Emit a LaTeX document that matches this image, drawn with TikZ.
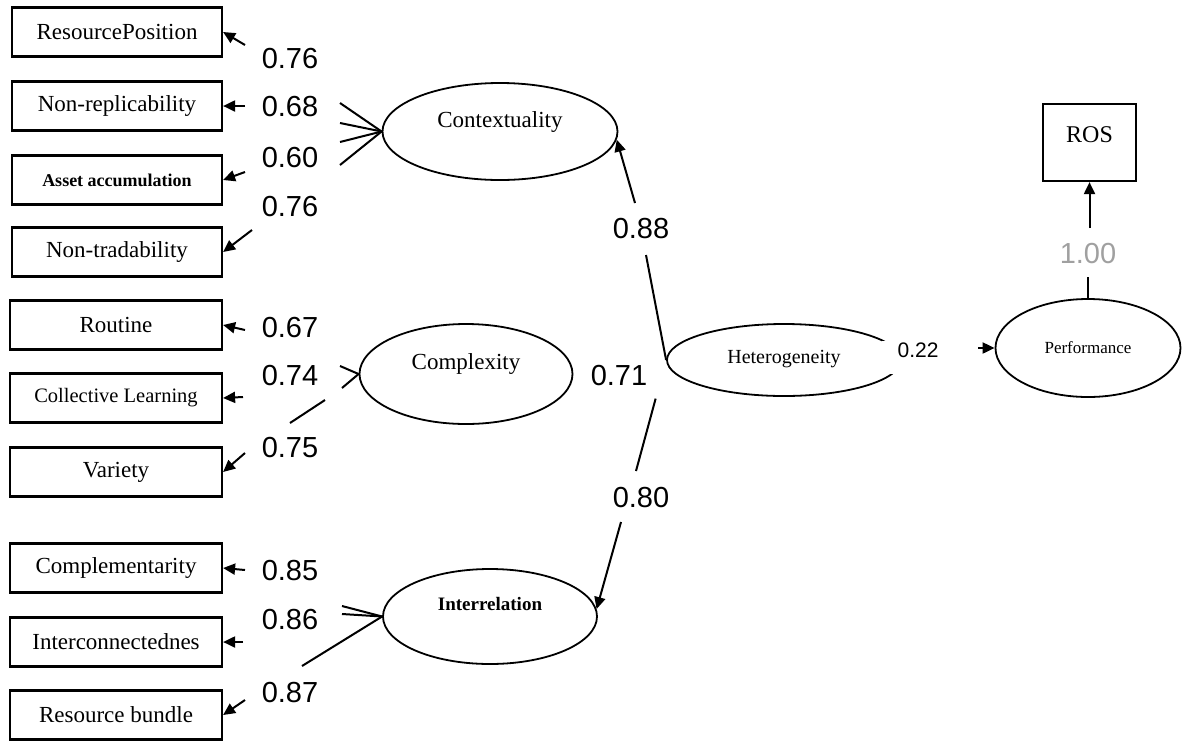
\documentclass[tikz,border=0pt]{standalone}
\usepackage{fontspec}
\setmainfont{Liberation Serif}
\newfontfamily\numfont{Liberation Sans}
\usetikzlibrary{shapes.geometric,arrows.meta}
\definecolor{pathgray}{RGB}{160,160,160}
\begin{document}
\begin{tikzpicture}[x=1pt,y=-1pt,
  obs/.style={draw, line width=2.2pt, rectangle, minimum width=210pt, minimum height=49pt, inner sep=0pt, font=\fontsize{23}{23}\selectfont},
  lat/.style={draw, line width=1.8pt, ellipse, inner sep=0pt},
  conn/.style={line width=2pt},
  arr/.style={line width=2pt, -{Triangle[length=12pt,width=11pt]}},
  num/.style={font=\numfont\fontsize{29}{29}\selectfont, inner sep=0pt},
]
\useasboundingbox (0,0) rectangle (1184,740);

% observed indicators
\node[obs] (rp) at (117,32) {ResourcePosition};
\node[obs] (nr) at (117,106) {Non-replicability};
\node[obs, font=\bfseries\fontsize{18}{18}\selectfont] (aa) at (117,180) {Asset accumulation};
\node[obs] (nt) at (117,252) {Non-tradability};
\node[obs, minimum width=212pt] (ro) at (116,325) {Routine};
\node[obs, minimum width=212pt, font=\fontsize{20.5}{20.5}\selectfont] (cl) at (116,398) {Collective Learning};
\node[obs, minimum width=212pt] (va) at (116,472) {Variety};
\node[obs, minimum width=212pt] (cm) at (116,568) {Complementarity};
\node[obs, minimum width=212pt] (ic) at (116,642) {Interconnectednes};
\node[obs, minimum width=212pt] (rb) at (116,715) {Resource bundle};
\node[obs, minimum width=93pt, minimum height=77pt, font=\fontsize{24}{24}\selectfont, text height=16pt, text depth=16pt] (ros) at (1089.5,142.5) {ROS};

% latent variables
\node[lat, minimum width=235pt, minimum height=97pt, font=\fontsize{23}{23}\selectfont, text height=15pt, text depth=24pt] (ctx) at (500,131.5) {Contextuality};
\node[lat, minimum width=213pt, minimum height=100pt, font=\fontsize{23}{23}\selectfont, text height=15pt, text depth=25pt] (cpx) at (466,374) {Complexity};
\node[lat, minimum width=214pt, minimum height=95pt, font=\bfseries\fontsize{19}{19}\selectfont, text height=12.5pt, text depth=25pt] (itr) at (490,616.5) {Interrelation};
\node[lat, minimum width=234pt, minimum height=72pt, font=\fontsize{20}{20}\selectfont, text height=13pt, text depth=7pt] (het) at (784,360) {Heterogeneity};
\node[lat, minimum width=185pt, minimum height=98pt, font=\fontsize{17}{17}\selectfont] (perf) at (1088,348) {Performance};

% free ends of the broken connectors
\coordinate (c1) at (340,103);
\coordinate (c2) at (340,123);
\coordinate (c3) at (340,142);
\coordinate (c4) at (340,165);
\coordinate (b1) at (245,45);
\coordinate (b2) at (245,106);
\coordinate (b3) at (245,172);
\coordinate (b4) at (252,230);
\coordinate (x1) at (340,366);
\coordinate (x2) at (342,388);
\coordinate (x3) at (325,400);
\coordinate (x4) at (290,423);
\coordinate (b5) at (245,330);
\coordinate (b6) at (243,397);
\coordinate (b7) at (245,453);
\coordinate (i1) at (342,606);
\coordinate (i2) at (342,614);
\coordinate (i3) at (302,666);
\coordinate (b8) at (245,570);
\coordinate (b9) at (243,642);
\coordinate (b10) at (245,700);
\coordinate (h1) at (646,255);
\coordinate (h2) at (635,203);
\coordinate (h3) at (636,471);
\coordinate (h4) at (621,522);
\coordinate (p1) at (978,348);
\coordinate (r1) at (1088,277);
\coordinate (r2) at (1089.5,228);

% Contextuality indicators
\draw[conn] (ctx.west) -- (c1);
\draw[conn] (ctx.west) -- (c2);
\draw[conn] (ctx.west) -- (c3);
\draw[conn] (ctx.west) -- (c4);
\draw[arr] (b1) -- (rp.east);
\draw[arr] (b2) -- (nr.east);
\draw[arr] (b3) -- (aa.east);
\draw[arr] (b4) -- (nt.east);

% Complexity indicators
\draw[conn] (cpx.west) -- (x1);
\draw[conn] (cpx.west) -- (x2);
\draw[conn] (x3) -- (x4);
\draw[arr] (b5) -- (ro.east);
\draw[arr] (b6) -- (cl.east);
\draw[arr] (b7) -- (va.east);

% Interrelation indicators
\draw[conn] (itr.west) -- (i1);
\draw[conn] (itr.west) -- (i2);
\draw[conn] (itr.west) -- (i3);
\draw[arr] (b8) -- (cm.east);
\draw[arr] (b9) -- (ic.east);
\draw[arr] (b10) -- (rb.east);

% structural paths
\draw[conn] (het.west) -- (h1);
\draw[arr] (h2) -- (ctx.-4);
\draw[conn, shorten <=40pt] (het.west) -- (h3);
\draw[arr] (h4) -- (itr.4);
\draw[arr] (p1) -- (perf.west);
\draw[conn] (perf.north) -- (r1);
\draw[arr] (r2) -- (ros.south);

% loadings
\node[num] (l1) at (290,59) {0.76};
\node[num] (l2) at (290,107) {0.68};
\node[num] (l3) at (290,158) {0.60};
\node[num] (l4) at (290,207) {0.76};
\node[num] (l5) at (290,328) {0.67};
\node[num] (l6) at (290,376) {0.74};
\node[num] (l7) at (290,448) {0.75};
\node[num] (l8) at (290,571) {0.85};
\node[num] (l9) at (290,620) {0.86};
\node[num] (l10) at (290,693) {0.87};
\node[num] (l11) at (641,229) {0.88};
\node[num] (l12) at (619,376) {0.71};
\node[num] (l13) at (641,498) {0.80};
\node[num, text=pathgray] (l14) at (1088,254) {1.00};
\node[fill=white, inner sep=2pt, font=\numfont\fontsize{21}{21}\selectfont, text width=55pt, align=right, text height=15pt, text depth=14pt] (l15) at (911,357) {0.22};
\end{tikzpicture}
\end{document}
